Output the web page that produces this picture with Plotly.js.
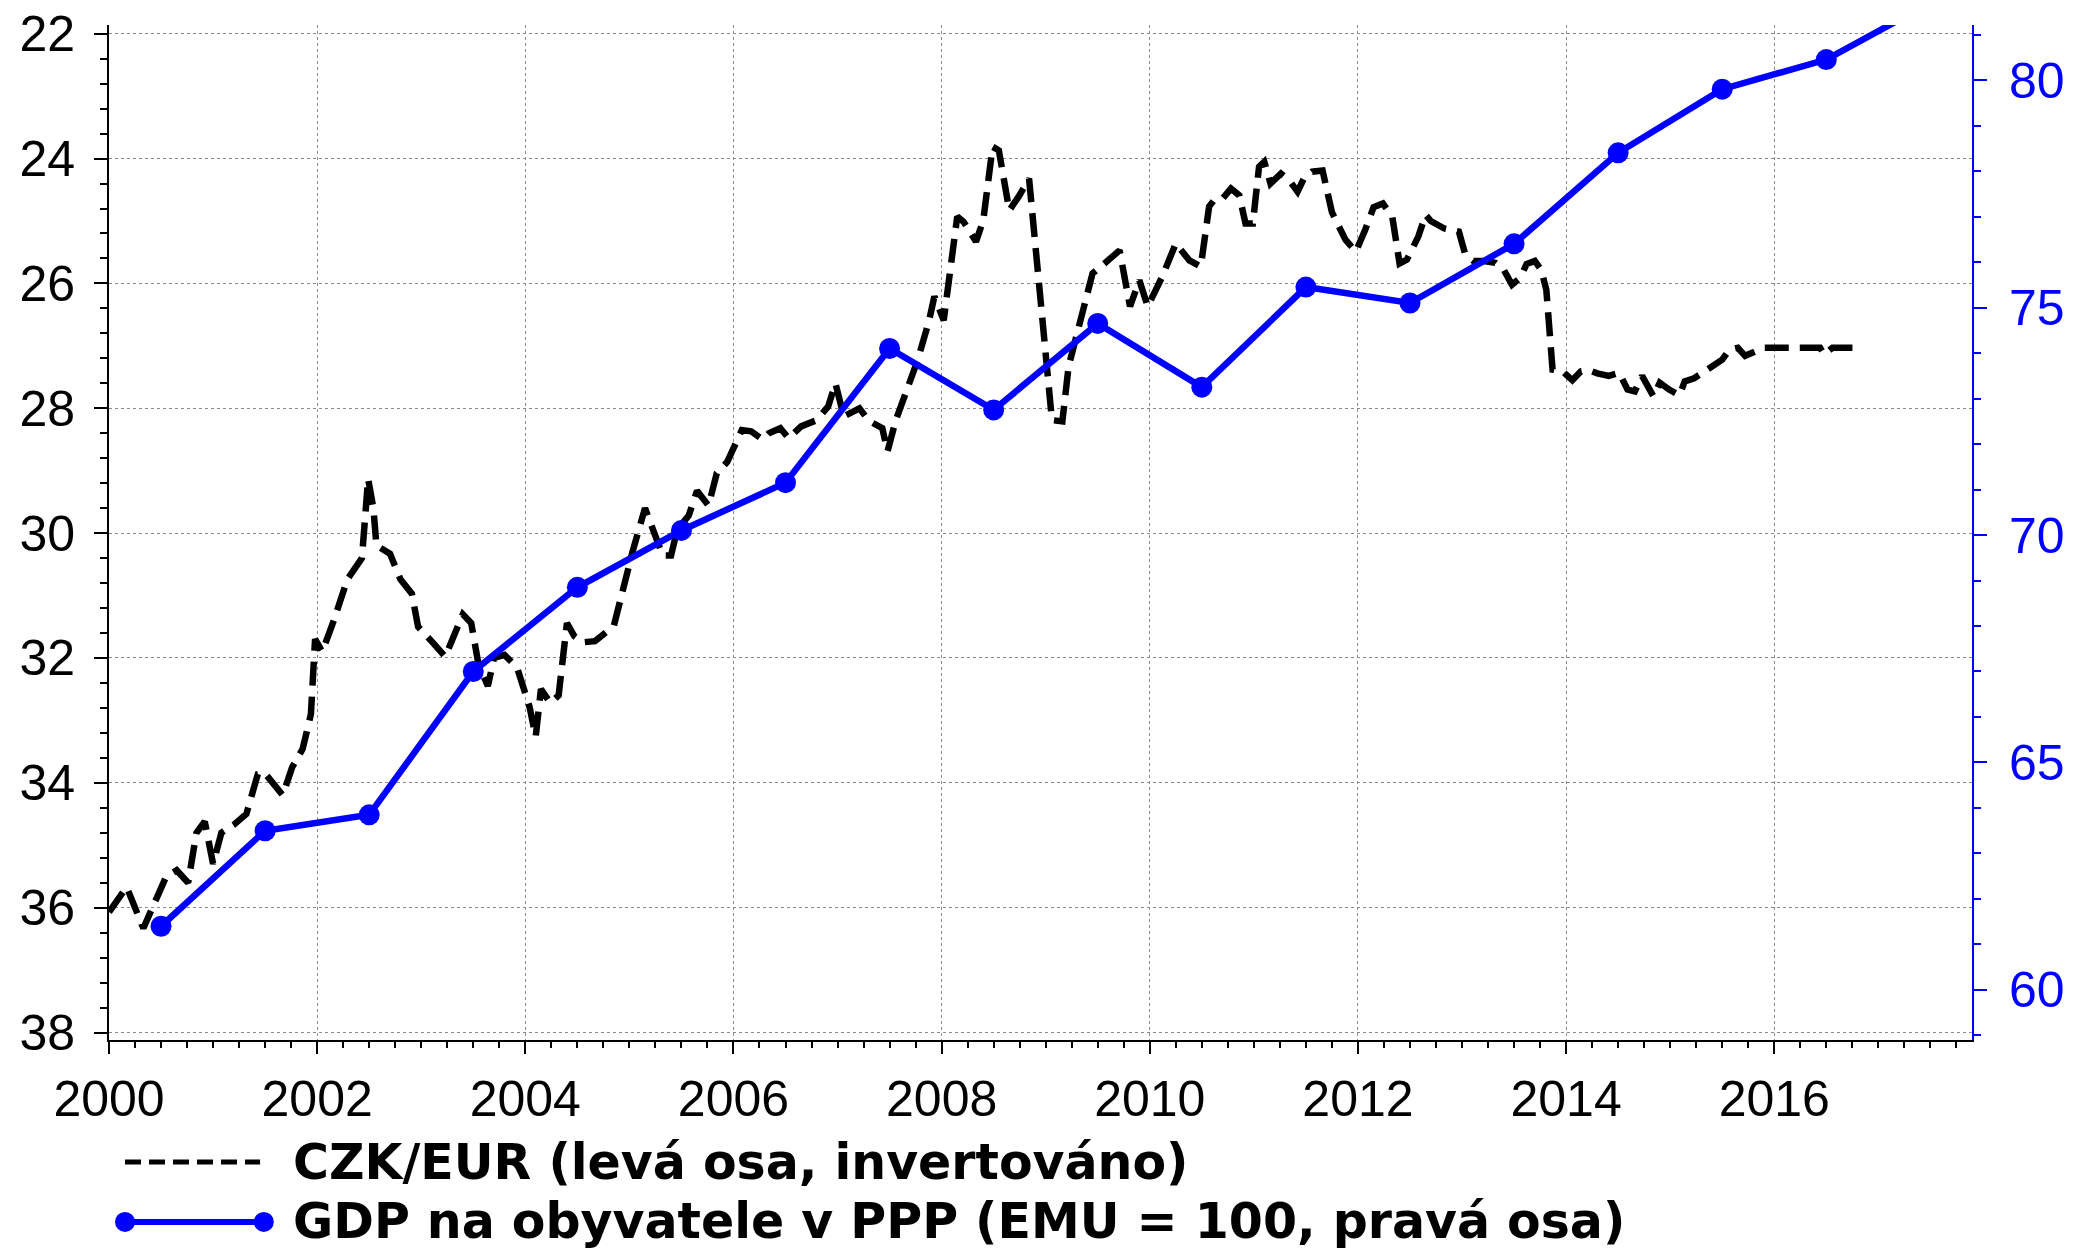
<!DOCTYPE html>
<html>
<head>
<meta charset="utf-8">
<script src="https://cdn.plot.ly/plotly-3.0.1.min.js"></script>
<style>
  html, body { margin: 0; padding: 0; background: #ffffff; }
  #chart { width: 2073px; height: 1253px; }
</style>
</head>
<body>
<div id="chart"></div>
<script>
// ---- Data ----
// CZK/EUR exchange rate (left axis, inverted), decimal years
const czkYear = [
  2000.00, 2000.17, 2000.33, 2000.55, 2000.65, 2000.76, 2000.84, 2000.92, 2001.00, 2001.08,
  2001.20, 2001.32, 2001.43, 2001.49, 2001.67, 2001.76, 2001.86, 2001.94, 2001.98, 2002.05,
  2002.16, 2002.29, 2002.43, 2002.49, 2002.54, 2002.57, 2002.70, 2002.80, 2002.91, 2002.97,
  2003.12, 2003.23, 2003.40, 2003.48, 2003.55, 2003.64, 2003.70, 2003.80, 2003.92, 2004.04,
  2004.10, 2004.15, 2004.24, 2004.32, 2004.40, 2004.47, 2004.55, 2004.67, 2004.85, 2004.92,
  2005.03, 2005.15, 2005.24, 2005.32, 2005.40, 2005.46, 2005.57, 2005.65, 2005.76, 2005.84,
  2005.94, 2006.08, 2006.17, 2006.28, 2006.34, 2006.45, 2006.53, 2006.65, 2006.80, 2006.91,
  2006.98, 2007.06, 2007.21, 2007.30, 2007.43, 2007.48, 2007.56, 2007.66, 2007.77, 2007.88,
  2007.93, 2008.02, 2008.07, 2008.15, 2008.21, 2008.33, 2008.40, 2008.49, 2008.55, 2008.65,
  2008.74, 2008.84, 2009.06, 2009.16, 2009.22, 2009.32, 2009.45, 2009.60, 2009.71, 2009.81,
  2009.90, 2009.98, 2010.12, 2010.25, 2010.38, 2010.49, 2010.57, 2010.62, 2010.70, 2010.78,
  2010.86, 2010.92, 2010.99, 2011.05, 2011.10, 2011.16, 2011.26, 2011.34, 2011.42, 2011.48,
  2011.56, 2011.66, 2011.71, 2011.75, 2011.88, 2011.98, 2012.07, 2012.15, 2012.24, 2012.33,
  2012.40, 2012.47, 2012.58, 2012.65, 2012.70, 2012.83, 2012.97, 2013.03, 2013.11, 2013.21,
  2013.32, 2013.40, 2013.48, 2013.56, 2013.62, 2013.70, 2013.76, 2013.81, 2013.87, 2013.96,
  2014.06, 2014.14, 2014.22, 2014.30, 2014.41, 2014.51, 2014.59, 2014.66, 2014.73, 2014.79,
  2014.84, 2014.90, 2014.99, 2015.09, 2015.14, 2015.23, 2015.33, 2015.42, 2015.50, 2015.57,
  2015.65, 2015.72, 2015.90, 2016.44, 2016.48, 2016.56, 2016.82
];
const czkRate = [
  36.07, 35.67, 36.33, 35.50, 35.40, 35.60, 34.80, 34.62, 35.30, 34.80,
  34.67, 34.50, 33.86, 33.83, 34.20, 33.75, 33.46, 32.90, 31.70, 31.90,
  31.40, 30.74, 30.40, 29.13, 29.60, 30.20, 30.33, 30.74, 30.97, 31.50,
  31.77, 31.98, 31.30, 31.44, 32.10, 32.45, 32.00, 31.95, 32.15, 32.78,
  33.26, 32.50, 32.72, 32.60, 31.44, 31.65, 31.75, 31.73, 31.49, 31.00,
  30.30, 29.60, 30.04, 30.36, 30.36, 29.94, 29.72, 29.32, 29.56, 29.04,
  28.86, 28.35, 28.37, 28.50, 28.40, 28.32, 28.48, 28.29, 28.19, 27.97,
  27.60, 28.13, 28.00, 28.20, 28.32, 28.69, 28.19, 27.76, 27.23, 26.59,
  26.21, 26.59, 25.95, 24.93, 25.01, 25.33, 24.99, 23.81, 23.87, 24.83,
  24.61, 24.32, 28.19, 28.21, 27.33, 26.69, 25.84, 25.63, 25.47, 26.37,
  25.95, 26.37, 25.89, 25.36, 25.63, 25.73, 24.77, 24.66, 24.64, 24.48,
  24.59, 25.04, 25.04, 24.13, 24.05, 24.40, 24.24, 24.35, 24.53, 24.32,
  24.21, 24.19, 24.56, 24.86, 25.30, 25.49, 25.14, 24.78, 24.72, 24.93,
  25.68, 25.62, 25.25, 24.90, 25.00, 25.12, 25.17, 25.53, 25.64, 25.64,
  25.67, 25.78, 26.02, 25.91, 25.69, 25.64, 25.78, 26.10, 27.38, 27.40,
  27.55, 27.41, 27.39, 27.44, 27.48, 27.43, 27.70, 27.73, 27.48, 27.65,
  27.81, 27.59, 27.70, 27.79, 27.57, 27.52, 27.41, 27.33, 27.22, 27.06,
  27.03, 27.16, 27.03, 27.03, 27.14, 27.03, 27.03
];

// GDP per capita in PPP (EMU = 100), right axis, plotted mid-year
const gdpYear = [2000.5, 2001.5, 2002.5, 2003.5, 2004.5, 2005.5, 2006.5, 2007.5, 2008.5,
                 2009.5, 2010.5, 2011.5, 2012.5, 2013.5, 2014.5, 2015.5, 2016.5, 2017.5];
const gdpValue = [61.4, 63.5, 63.85, 67.0, 68.85, 70.1, 71.15, 74.1, 72.75,
                  74.65, 73.25, 75.45, 75.1, 76.4, 78.4, 79.8, 80.45, 81.7];

// Legend labels
const legendLabels = [
  "CZK/EUR (levá osa, invertováno)",
  "GDP na obyvatele v PPP (EMU = 100, pravá osa)"
];

const BLUE = '#0000ff';
const GRID = '#8a8a8a';
const TICKFONT = {family: 'Liberation Sans, Arial, sans-serif', size: 50, color: '#000000'};

const traces = [
  {
    x: czkYear, y: czkRate, type: 'scatter', mode: 'lines', yaxis: 'y',
    line: {color: '#000000', width: 6.5, dash: '24px,11px'},
    hoverinfo: 'skip', showlegend: false
  },
  {
    x: gdpYear, y: gdpValue, type: 'scatter', mode: 'lines+markers', yaxis: 'y2',
    line: {color: BLUE, width: 6.5},
    marker: {color: BLUE, size: 21},
    hoverinfo: 'skip', showlegend: false
  }
];

// legend geometry (paper coords)
const legY1 = -0.1202, legY2 = -0.1792;
const legX0 = 0.0086, legX1 = 0.0811, legTextX = 0.0977;

const layout = {
  width: 2073, height: 1253,
  margin: {l: 109, r: 101, t: 25, b: 213},
  paper_bgcolor: '#ffffff', plot_bgcolor: '#ffffff',
  font: TICKFONT,
  showlegend: false,
  xaxis: {
    range: [2000, 2017.9], tick0: 2000, dtick: 2,
    ticks: 'outside', ticklen: 12, tickwidth: 2, tickcolor: '#000000',
    showline: true, linecolor: '#000000', linewidth: 2,
    showgrid: true, gridcolor: GRID, gridwidth: 1, griddash: 'dot',
    zeroline: false, tickfont: TICKFONT, ticklabelstandoff: 2,
    minor: {dtick: 0.25, tick0: 2000, ticks: 'outside', ticklen: 6, tickwidth: 2, tickcolor: '#000000', showgrid: false}
  },
  yaxis: {
    range: [38.12, 21.86], tick0: 22, dtick: 2,
    ticks: 'outside', ticklen: 13, tickwidth: 2, tickcolor: '#000000',
    showline: true, linecolor: '#000000', linewidth: 2,
    showgrid: true, gridcolor: GRID, gridwidth: 1, griddash: 'dot',
    zeroline: false, tickfont: TICKFONT, ticklabelstandoff: 9,
    minor: {dtick: 0.4, tick0: 22, ticks: 'outside', ticklen: 7, tickwidth: 2, tickcolor: '#000000', showgrid: false}
  },
  yaxis2: {
    overlaying: 'y', side: 'right',
    range: [58.9, 81.21], tick0: 60, dtick: 5,
    ticks: 'outside', ticklen: 13, tickwidth: 2, tickcolor: BLUE,
    showline: true, linecolor: BLUE, linewidth: 2,
    showgrid: false, zeroline: false,
    tickfont: {family: TICKFONT.family, size: 50, color: BLUE}, ticklabelstandoff: 12,
    minor: {dtick: 1, tick0: 60, ticks: 'outside', ticklen: 7, tickwidth: 2, tickcolor: BLUE, showgrid: false}
  },
  shapes: [
    {type: 'line', xref: 'paper', yref: 'paper', x0: legX0, x1: legX1, y0: legY1, y1: legY1,
     line: {color: '#000000', width: 5, dash: '16px,8px'}},
    {type: 'line', xref: 'paper', yref: 'paper', x0: legX0, x1: legX1 + 0.002, y0: legY2, y1: legY2,
     line: {color: BLUE, width: 6}},
    {type: 'circle', xref: 'paper', yref: 'paper', xsizemode: 'pixel', ysizemode: 'pixel',
     xanchor: legX0, yanchor: legY2, x0: -10, x1: 10, y0: -10, y1: 10,
     fillcolor: BLUE, line: {color: BLUE, width: 0}},
    {type: 'circle', xref: 'paper', yref: 'paper', xsizemode: 'pixel', ysizemode: 'pixel',
     xanchor: legX1 + 0.002, yanchor: legY2, x0: -10, x1: 10, y0: -10, y1: 10,
     fillcolor: BLUE, line: {color: BLUE, width: 0}}
  ],
  annotations: [
    {xref: 'paper', yref: 'paper', x: legTextX, y: legY1, xanchor: 'left', yanchor: 'middle',
     text: legendLabels[0], showarrow: false,
     font: {family: 'DejaVu Sans, Liberation Sans, Arial, sans-serif', size: 49, color: '#000000', weight: 'bold'}},
    {xref: 'paper', yref: 'paper', x: legTextX, y: legY2, xanchor: 'left', yanchor: 'middle',
     text: legendLabels[1], showarrow: false,
     font: {family: 'DejaVu Sans, Liberation Sans, Arial, sans-serif', size: 49, color: '#000000', weight: 'bold'}}
  ]
};

Plotly.newPlot('chart', traces, layout, {staticPlot: true, displayModeBar: false});
</script>
</body>
</html>
